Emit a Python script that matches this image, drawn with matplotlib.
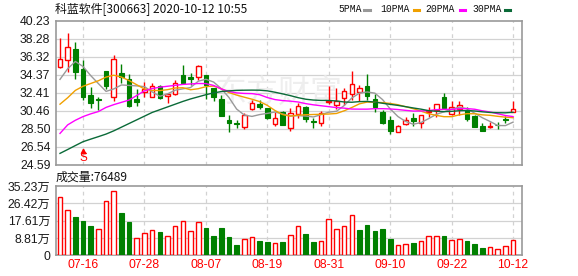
import matplotlib
matplotlib.use('Agg')
import matplotlib.pyplot as plt
from matplotlib.patches import Rectangle

title = "科蓝软件[300663] 2020-10-12 10:55"
dates = ["07-13","07-14","07-15","07-16","07-17","07-20","07-21","07-22","07-23","07-24",
         "07-27","07-28","07-29","07-30","07-31","08-03","08-04","08-05","08-06","08-07",
         "08-10","08-11","08-12","08-13","08-14","08-17","08-18","08-19","08-20","08-21",
         "08-24","08-25","08-26","08-27","08-28","08-31","09-01","09-02","09-03","09-04",
         "09-07","09-08","09-09","09-10","09-11","09-14","09-15","09-16","09-17","09-18",
         "09-21","09-22","09-23","09-24","09-25","09-28","09-29","09-30","10-09","10-12"]
tick_dates = ["07-16","07-28","08-07","08-19","08-31","09-10","09-22","10-12"]

opens = [35.16,35.95,37.15,34.94,32.15,31.72,34.76,31.96,34.57,33.89,
         31.71,32.50,31.96,33.16,32.07,32.22,34.32,34.07,34.07,34.30,
         32.87,31.71,29.43,29.05,28.63,30.62,31.13,30.70,28.99,30.26,
         28.59,30.04,30.84,29.27,29.07,31.35,31.06,31.78,32.29,32.44,
         33.12,31.68,30.26,29.39,28.15,28.96,29.61,29.13,30.26,30.51,
         31.96,30.04,30.59,30.51,29.86,28.74,28.70,28.90,29.53,30.26]
highs = [38.38,38.92,37.91,35.95,32.98,31.96,34.80,36.50,35.52,34.43,
         32.76,33.59,33.42,33.23,32.33,33.78,35.41,34.57,35.44,34.32,
         32.90,32.15,29.97,29.43,30.15,31.62,31.60,30.75,30.26,30.45,
         30.70,31.31,31.00,29.68,30.40,33.12,32.87,32.94,34.76,33.23,
         34.43,32.22,30.51,29.86,28.85,29.72,30.22,30.00,30.81,31.15,
         32.33,31.49,31.49,30.81,29.95,29.07,29.17,29.17,29.89,31.49]
lows = [35.10,34.68,33.92,31.60,30.76,30.51,32.80,31.53,33.42,30.87,
        30.95,31.96,31.90,31.70,31.31,32.20,33.35,33.23,33.78,31.68,
        31.49,29.85,28.09,28.59,28.45,30.55,30.62,29.50,28.77,28.85,
        28.26,29.68,29.17,28.52,28.77,31.13,30.62,31.06,31.60,31.49,
        31.60,30.26,29.00,27.87,28.10,28.90,28.77,28.52,29.78,29.78,
        30.70,30.00,29.97,29.32,28.65,28.20,28.59,28.45,29.07,30.26]
closes = [36.03,37.40,34.68,31.96,31.24,31.65,33.16,36.03,34.14,30.95,
          31.42,32.76,33.16,31.78,32.22,33.45,33.48,33.85,35.25,33.25,
          31.96,29.89,29.07,28.95,29.97,31.24,30.87,29.70,29.70,28.88,
          30.22,30.98,29.50,29.20,30.22,31.49,31.49,32.58,33.31,32.94,
          32.07,30.84,29.07,28.26,28.81,29.38,29.32,29.97,30.40,31.13,
          30.76,30.81,31.06,29.53,28.70,28.26,28.81,28.86,29.46,30.59]
volume_wan = [29.5,23.0,19.5,17.6,14.9,13.2,27.6,32.7,21.5,16.9,
              8.6,11.2,12.9,11.8,9.7,14.7,17.4,12.4,16.9,13.9,
              9.8,13.9,9.3,5.2,8.3,9.2,7.3,6.8,6.1,6.8,
              10.2,14.7,10.8,6.8,7.3,18.3,13.4,14.7,20.3,12.9,
              15.4,12.4,13.4,8.3,5.2,5.6,6.2,7.3,9.8,9.8,
              9.8,7.8,8.3,7.3,5.7,3.9,4.1,3.2,4.7,7.65]
ma5 = [33.85,35.00,35.80,35.25,34.26,33.39,32.54,32.81,33.24,33.19,
       33.14,33.06,32.49,32.01,32.27,32.67,32.82,32.96,33.65,33.86,
       33.56,32.84,31.88,30.62,29.97,29.82,30.02,30.15,30.30,30.08,
       29.87,29.90,29.86,29.76,30.02,30.28,30.38,31.00,31.82,32.36,
       32.48,32.35,31.65,30.64,29.81,29.27,28.97,29.15,29.58,30.04,
       30.32,30.61,30.83,30.66,30.17,29.67,29.27,28.83,28.82,29.20]
ma10 = [31.15,31.85,32.65,33.10,33.40,33.70,34.10,34.30,34.10,33.72,
        33.26,32.80,32.65,32.63,32.73,32.91,32.94,32.72,32.83,33.06,
        33.12,32.83,32.42,32.14,31.91,31.69,31.43,31.02,30.46,30.02,
        29.85,29.96,30.00,30.03,30.05,30.08,30.14,30.43,30.79,31.19,
        31.38,31.36,31.32,31.23,31.09,30.88,30.66,30.40,30.11,29.93,
        29.79,29.79,29.99,30.12,30.11,29.99,29.94,29.83,29.74,29.68]
ma20 = [27.97,28.90,29.40,29.80,30.10,30.35,30.80,31.10,31.35,31.60,
        32.10,32.60,32.85,33.00,33.10,33.20,33.30,33.35,33.40,33.39,
        33.19,32.81,32.53,32.38,32.32,32.30,32.18,31.87,31.65,31.54,
        31.48,31.39,31.21,31.08,30.98,30.88,30.78,30.72,30.62,30.61,
        30.61,30.66,30.66,30.63,30.57,30.48,30.40,30.41,30.45,30.56,
        30.59,30.58,30.66,30.67,30.60,30.43,30.30,30.11,29.92,29.80]
ma30 = [25.80,26.22,26.65,27.07,27.35,27.62,27.90,28.25,28.65,29.05,
        29.45,29.85,30.25,30.55,30.85,31.15,31.45,31.72,31.95,32.18,
        32.38,32.52,32.60,32.65,32.67,32.68,32.67,32.60,32.45,32.27,
        32.08,31.86,31.69,31.60,31.56,31.56,31.50,31.39,31.36,31.43,
        31.45,31.38,31.25,31.13,31.02,30.88,30.74,30.61,30.45,30.38,
        30.34,30.37,30.44,30.46,30.41,30.32,30.25,30.22,30.21,30.27]
price_ticks = [24.59,26.54,28.50,30.46,32.41,34.37,36.32,38.28,40.23]
price_tick_labels = ["24.59","26.54","28.50","30.46","32.41","34.37","36.32","38.28","40.23"]
vol_ticks = [0,8.81,17.61,26.42,35.23]
vol_tick_labels = ["0","8.81万","17.61万","26.42万","35.23万"]
last_volume_label = "成交量:76489"
signal_date = "07-16"
ma_names = ["5PMA","10PMA","20PMA","30PMA"]

RED = '#ff0000'
GREEN = '#008000'
MA_COLORS = ['#999999', '#f0a000', '#ff00ff', '#0a6a38']
GRID = '#d2d2d2'
SPINE = '#999999'
NUMF = ['Liberation Sans', 'Noto Sans CJK SC']
CJKF = ['Noto Sans CJK SC', 'DejaVu Sans']

W, H = 578, 276
fig = plt.figure(figsize=(W/100, H/100), dpi=100)
fig.patch.set_facecolor('white')

def frac_axes(left, top, right, bottom):
    return fig.add_axes([left/W, 1-bottom/H, (right-left)/W, (bottom-top)/H])

ax = frac_axes(56, 20.7, 522, 164.5)
axv = frac_axes(56, 186, 522, 255.3)

n = len(closes)
xs = list(range(n))
tick_idx = [dates.index(d) for d in tick_dates]
xlim = (-0.52, 60.16)

for a in (ax, axv):
    a.set_xlim(*xlim)
    for s in a.spines.values():
        s.set_color(SPINE)
        s.set_linewidth(1.2)
    a.tick_params(length=0)
    for t in tick_idx:
        a.axvline(t, color=GRID, lw=0.9, ls=(0, (3, 3)), zorder=0)

# price panel
ax.set_ylim(price_ticks[0], price_ticks[-1])
ax.set_yticks(price_ticks)
ax.set_yticklabels(price_tick_labels, family=NUMF, fontsize=8.8, color='#1a1a1a')
ax.tick_params(axis='y', pad=4)
ax.set_xticks([])
for v in price_ticks[1:-1]:
    ax.axhline(v, color=GRID, lw=0.9, zorder=0)

ax.text(28.5, 32.3, "东方财富", family=CJKF, fontsize=23, color='#eeeeee',
        ha='center', va='center', zorder=0.5, style='italic')

bw = 0.6
for i in xs:
    o, h, l, c = opens[i], highs[i], lows[i], closes[i]
    up = c >= o
    col = RED if up else GREEN
    ax.vlines(i, l, h, color=col, lw=1.0, zorder=3)
    bot = min(o, c)
    hgt = max(abs(c - o), 0.07)
    if up:
        ax.add_patch(Rectangle((i - bw/2, bot), bw, hgt, facecolor='white',
                               edgecolor=col, lw=1.0, zorder=4))
    else:
        ax.add_patch(Rectangle((i - bw/2, bot), bw, hgt, facecolor=col,
                               edgecolor=col, lw=0.8, zorder=4))

for series, colr in zip([ma5, ma10, ma20, ma30], MA_COLORS):
    ax.plot(xs, series, color=colr, lw=1.0, zorder=5)

si = dates.index(signal_date)
ax.plot([si], [26.02], marker='^', color=RED, ms=3.2, zorder=6)
ax.text(si, 25.35, "S", color=RED, family=NUMF, fontsize=8.5, ha='center', va='center', zorder=6)

# volume panel
axv.set_ylim(vol_ticks[0], vol_ticks[-1])
axv.set_yticks(vol_ticks)
axv.set_yticklabels(vol_tick_labels, family=NUMF, fontsize=8.8, color='#1a1a1a')
axv.tick_params(axis='y', pad=4)
for v in vol_ticks[1:-1]:
    axv.axhline(v, color=GRID, lw=0.9, zorder=0)
axv.set_xticks(tick_idx)
axv.set_xticklabels(tick_dates, family=NUMF, fontsize=8.8, color=RED)
axv.tick_params(axis='x', pad=3)

for i in xs:
    up = True if i == 0 else closes[i] >= closes[i-1]
    if up:
        axv.bar(i, volume_wan[i], width=bw, facecolor='white', edgecolor=RED, lw=1.0, zorder=3)
    else:
        axv.bar(i, volume_wan[i], width=bw, facecolor=GREEN, edgecolor=GREEN, lw=0.8, zorder=3)

# texts
fig.text(55/W, 1-9/H, title, family=CJKF, fontsize=8.6, color='#111111', va='center', ha='left')
fig.text(56/W, 1-177.5/H, last_volume_label, family=CJKF, fontsize=8.6, color='#111111', va='center', ha='left')

leg_text_x = [338, 380, 425.5, 472]
leg_mark_x = [367, 416, 462.5, 507.5]
for name, colr, tx, mx in zip(ma_names, MA_COLORS, leg_text_x, leg_mark_x):
    fig.text(tx/W, 1-9/H, name, family=['Liberation Mono'], fontsize=7.0, color='#111111', va='center', ha='left')
    fig.add_artist(plt.Line2D([(mx-2.5)/W, (mx+2.5)/W], [1-9.5/H, 1-9.5/H], color=colr, lw=2.2))

fig.savefig('out.png', dpi=100)
